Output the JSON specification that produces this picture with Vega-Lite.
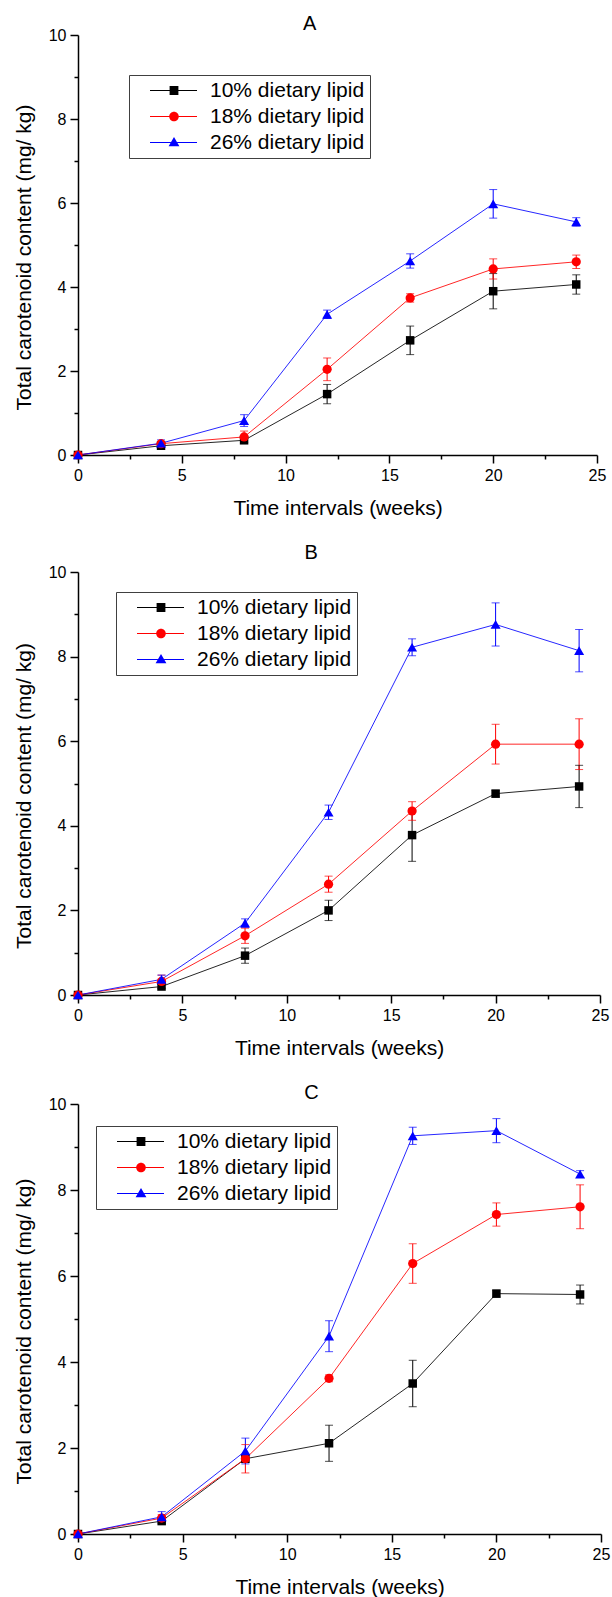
{
  "$schema": "https://vega.github.io/schema/vega-lite/v6.json",
  "padding": {"left": 13, "top": 14, "right": 4, "bottom": 0},
  "background": "white",
  "spacing": 25,
  "datasets": {
    "d": [
      {"p":"A","g":"10% dietary lipid","w":0,"v":0,"lo":0,"hi":0},
      {"p":"A","g":"10% dietary lipid","w":4,"v":0.22,"lo":0.17,"hi":0.27},
      {"p":"A","g":"10% dietary lipid","w":8,"v":0.35,"lo":0.30,"hi":0.40},
      {"p":"A","g":"10% dietary lipid","w":12,"v":1.45,"lo":1.22,"hi":1.68},
      {"p":"A","g":"10% dietary lipid","w":16,"v":2.73,"lo":2.39,"hi":3.07},
      {"p":"A","g":"10% dietary lipid","w":20,"v":3.90,"lo":3.48,"hi":4.32},
      {"p":"A","g":"10% dietary lipid","w":24,"v":4.06,"lo":3.83,"hi":4.29},
      {"p":"A","g":"18% dietary lipid","w":0,"v":0,"lo":0,"hi":0},
      {"p":"A","g":"18% dietary lipid","w":4,"v":0.27,"lo":0.22,"hi":0.32},
      {"p":"A","g":"18% dietary lipid","w":8,"v":0.43,"lo":0.29,"hi":0.57},
      {"p":"A","g":"18% dietary lipid","w":12,"v":2.04,"lo":1.77,"hi":2.31},
      {"p":"A","g":"18% dietary lipid","w":16,"v":3.74,"lo":3.64,"hi":3.84},
      {"p":"A","g":"18% dietary lipid","w":20,"v":4.43,"lo":4.19,"hi":4.67},
      {"p":"A","g":"18% dietary lipid","w":24,"v":4.60,"lo":4.44,"hi":4.76},
      {"p":"A","g":"26% dietary lipid","w":0,"v":0,"lo":0,"hi":0},
      {"p":"A","g":"26% dietary lipid","w":4,"v":0.28,"lo":0.20,"hi":0.36},
      {"p":"A","g":"26% dietary lipid","w":8,"v":0.82,"lo":0.68,"hi":0.96},
      {"p":"A","g":"26% dietary lipid","w":12,"v":3.35,"lo":3.25,"hi":3.45},
      {"p":"A","g":"26% dietary lipid","w":16,"v":4.62,"lo":4.45,"hi":4.79},
      {"p":"A","g":"26% dietary lipid","w":20,"v":5.98,"lo":5.64,"hi":6.32},
      {"p":"A","g":"26% dietary lipid","w":24,"v":5.55,"lo":5.45,"hi":5.65},
      {"p":"B","g":"10% dietary lipid","w":0,"v":0,"lo":0,"hi":0},
      {"p":"B","g":"10% dietary lipid","w":4,"v":0.20,"lo":0.15,"hi":0.25},
      {"p":"B","g":"10% dietary lipid","w":8,"v":0.93,"lo":0.75,"hi":1.11},
      {"p":"B","g":"10% dietary lipid","w":12,"v":2.00,"lo":1.76,"hi":2.24},
      {"p":"B","g":"10% dietary lipid","w":16,"v":3.78,"lo":3.16,"hi":4.40},
      {"p":"B","g":"10% dietary lipid","w":20,"v":4.76,"lo":4.68,"hi":4.84},
      {"p":"B","g":"10% dietary lipid","w":24,"v":4.93,"lo":4.43,"hi":5.43},
      {"p":"B","g":"18% dietary lipid","w":0,"v":0,"lo":0,"hi":0},
      {"p":"B","g":"18% dietary lipid","w":4,"v":0.32,"lo":0.17,"hi":0.47},
      {"p":"B","g":"18% dietary lipid","w":8,"v":1.40,"lo":1.22,"hi":1.58},
      {"p":"B","g":"18% dietary lipid","w":12,"v":2.62,"lo":2.43,"hi":2.81},
      {"p":"B","g":"18% dietary lipid","w":16,"v":4.35,"lo":4.13,"hi":4.57},
      {"p":"B","g":"18% dietary lipid","w":20,"v":5.93,"lo":5.46,"hi":6.40},
      {"p":"B","g":"18% dietary lipid","w":24,"v":5.93,"lo":5.33,"hi":6.53},
      {"p":"B","g":"26% dietary lipid","w":0,"v":0,"lo":0,"hi":0},
      {"p":"B","g":"26% dietary lipid","w":4,"v":0.37,"lo":0.27,"hi":0.47},
      {"p":"B","g":"26% dietary lipid","w":8,"v":1.70,"lo":1.60,"hi":1.80},
      {"p":"B","g":"26% dietary lipid","w":12,"v":4.32,"lo":4.15,"hi":4.49},
      {"p":"B","g":"26% dietary lipid","w":16,"v":8.22,"lo":8.02,"hi":8.42},
      {"p":"B","g":"26% dietary lipid","w":20,"v":8.76,"lo":8.25,"hi":9.27},
      {"p":"B","g":"26% dietary lipid","w":24,"v":8.14,"lo":7.64,"hi":8.64},
      {"p":"C","g":"10% dietary lipid","w":0,"v":0,"lo":0,"hi":0},
      {"p":"C","g":"10% dietary lipid","w":4,"v":0.30,"lo":0.25,"hi":0.35},
      {"p":"C","g":"10% dietary lipid","w":8,"v":1.75,"lo":1.67,"hi":1.83},
      {"p":"C","g":"10% dietary lipid","w":12,"v":2.11,"lo":1.69,"hi":2.53},
      {"p":"C","g":"10% dietary lipid","w":16,"v":3.50,"lo":2.96,"hi":4.04},
      {"p":"C","g":"10% dietary lipid","w":20,"v":5.59,"lo":5.51,"hi":5.67},
      {"p":"C","g":"10% dietary lipid","w":24,"v":5.57,"lo":5.35,"hi":5.79},
      {"p":"C","g":"18% dietary lipid","w":0,"v":0,"lo":0,"hi":0},
      {"p":"C","g":"18% dietary lipid","w":4,"v":0.37,"lo":0.29,"hi":0.45},
      {"p":"C","g":"18% dietary lipid","w":8,"v":1.75,"lo":1.42,"hi":2.08},
      {"p":"C","g":"18% dietary lipid","w":12,"v":3.62,"lo":3.54,"hi":3.70},
      {"p":"C","g":"18% dietary lipid","w":16,"v":6.29,"lo":5.83,"hi":6.75},
      {"p":"C","g":"18% dietary lipid","w":20,"v":7.43,"lo":7.16,"hi":7.70},
      {"p":"C","g":"18% dietary lipid","w":24,"v":7.61,"lo":7.10,"hi":8.12},
      {"p":"C","g":"26% dietary lipid","w":0,"v":0,"lo":0,"hi":0},
      {"p":"C","g":"26% dietary lipid","w":4,"v":0.40,"lo":0.28,"hi":0.52},
      {"p":"C","g":"26% dietary lipid","w":8,"v":1.93,"lo":1.63,"hi":2.23},
      {"p":"C","g":"26% dietary lipid","w":12,"v":4.60,"lo":4.24,"hi":4.96},
      {"p":"C","g":"26% dietary lipid","w":16,"v":9.26,"lo":9.06,"hi":9.46},
      {"p":"C","g":"26% dietary lipid","w":20,"v":9.38,"lo":9.10,"hi":9.66},
      {"p":"C","g":"26% dietary lipid","w":24,"v":8.37,"lo":8.29,"hi":8.45}
    ]
  },
  "resolve": {"scale": {"color": "independent", "shape": "independent"}, "legend": {"color": "independent", "shape": "independent"}},
  "vconcat": [
    {
      "title": {"text": "A", "offset": -7},
      "width": 519, "height": 420,
      "data": {"name": "d"},
      "transform": [{"filter": "datum.p === 'A'"}],
      "encoding": {
        "x": {"field": "w", "type": "quantitative", "title": "Time intervals (weeks)", "scale": {"domain": [0, 25], "nice": false, "zero": false},
          "axis": {"values": [0,2.5,5,7.5,10,12.5,15,17.5,20,22.5,25], "labelExpr": "datum.value % 5 === 0 ? '' + datum.value : ''", "tickSize": {"condition": {"test": "datum.value % 5 === 0", "value": 8}, "value": 4}}},
        "color": {"field": "g", "type": "nominal", "scale": {"domain": ["10% dietary lipid","18% dietary lipid","26% dietary lipid"], "range": ["#000000","#ff0000","#0000ff"]},
          "legend": {"legendX": 51, "legendY": 40}}
      },
      "layer": [
        {"mark": {"type": "rule", "strokeWidth": 1}, "encoding": {"y": {"field": "lo", "type": "quantitative", "title": "Total carotenoid content (mg/ kg)", "scale": {"domain": [0, 10], "nice": false}}, "y2": {"field": "hi"}}},
        {"mark": {"type": "tick", "orient": "horizontal", "size": 8, "thickness": 1}, "encoding": {"y": {"field": "lo", "type": "quantitative", "title": "Total carotenoid content (mg/ kg)"}}},
        {"mark": {"type": "tick", "orient": "horizontal", "size": 8, "thickness": 1}, "encoding": {"y": {"field": "hi", "type": "quantitative", "title": "Total carotenoid content (mg/ kg)"}}},
        {"mark": {"type": "line", "strokeWidth": 1, "opacity": 0.85}, "encoding": {"y": {"field": "v", "type": "quantitative", "title": "Total carotenoid content (mg/ kg)",
          "axis": {"values": [0,1,2,3,4,5,6,7,8,9,10], "titleY": 222, "labelExpr": "datum.value % 2 === 0 ? '' + datum.value : ''", "tickSize": {"condition": {"test": "datum.value % 2 === 0", "value": 8}, "value": 4}}}}},
        {"transform": [{"filter": "datum.g === '10% dietary lipid'"}], "mark": {"type": "point", "shape": "square", "filled": true, "opacity": 1, "size": 72}, "encoding": {"y": {"field": "v", "type": "quantitative", "title": "Total carotenoid content (mg/ kg)"}}},
        {"transform": [{"filter": "datum.g === '18% dietary lipid'"}], "mark": {"type": "point", "shape": "circle", "filled": true, "opacity": 1, "size": 85}, "encoding": {"y": {"field": "v", "type": "quantitative", "title": "Total carotenoid content (mg/ kg)"}}},
        {"transform": [{"filter": "datum.g === '26% dietary lipid'"}], "mark": {"type": "point", "shape": "triangle-up", "filled": true, "opacity": 1, "size": 100}, "encoding": {"y": {"field": "v", "type": "quantitative", "title": "Total carotenoid content (mg/ kg)"}}},
        {"transform": [{"filter": "datum.w < 0"}], "mark": {"type": "point", "filled": true, "opacity": 1, "size": 64}, "encoding": {"y": {"field": "v", "type": "quantitative", "title": "Total carotenoid content (mg/ kg)"},
          "shape": {"field": "g", "type": "nominal", "scale": {"domain": ["10% dietary lipid","18% dietary lipid","26% dietary lipid"], "range": ["M1.375,-0.125H6.275V0.125H1.375ZM8.475,-0.125H13.125V0.125H8.475ZM6.275,-1.1H8.475V1.1H6.275Z", "M1.375,-0.125H6.175V0.125H1.375ZM8.575,-0.125H13.125V0.125H8.575ZM8.575,0A1.2,1.2,0,1,1,6.175,0A1.2,1.2,0,1,1,8.575,0Z", "M1.375,-0.125H6.575V0.125H1.375ZM8.175,-0.125H13.125V0.125H8.175ZM7.375,-1.4L8.725,0.95H6.025Z"]}, "legend": {"legendX": 51, "legendY": 40}}}}
      ]
    },
    {
      "title": {"text": "B", "offset": 1},
      "width": 522, "height": 423,
      "data": {"name": "d"},
      "transform": [{"filter": "datum.p === 'B'"}],
      "encoding": {
        "x": {"field": "w", "type": "quantitative", "title": "Time intervals (weeks)", "scale": {"domain": [0, 25], "nice": false, "zero": false},
          "axis": {"values": [0,2.5,5,7.5,10,12.5,15,17.5,20,22.5,25], "labelExpr": "datum.value % 5 === 0 ? '' + datum.value : ''", "tickSize": {"condition": {"test": "datum.value % 5 === 0", "value": 8}, "value": 4}}},
        "color": {"field": "g", "type": "nominal", "scale": {"domain": ["10% dietary lipid","18% dietary lipid","26% dietary lipid"], "range": ["#000000","#ff0000","#0000ff"]},
          "legend": {"legendX": 38, "legendY": 20}}
      },
      "layer": [
        {"mark": {"type": "rule", "strokeWidth": 1}, "encoding": {"y": {"field": "lo", "type": "quantitative", "title": "Total carotenoid content (mg/ kg)", "scale": {"domain": [0, 10], "nice": false}}, "y2": {"field": "hi"}}},
        {"mark": {"type": "tick", "orient": "horizontal", "size": 8, "thickness": 1}, "encoding": {"y": {"field": "lo", "type": "quantitative", "title": "Total carotenoid content (mg/ kg)"}}},
        {"mark": {"type": "tick", "orient": "horizontal", "size": 8, "thickness": 1}, "encoding": {"y": {"field": "hi", "type": "quantitative", "title": "Total carotenoid content (mg/ kg)"}}},
        {"mark": {"type": "line", "strokeWidth": 1, "opacity": 0.85}, "encoding": {"y": {"field": "v", "type": "quantitative", "title": "Total carotenoid content (mg/ kg)",
          "axis": {"values": [0,1,2,3,4,5,6,7,8,9,10], "titleY": 223.5, "labelExpr": "datum.value % 2 === 0 ? '' + datum.value : ''", "tickSize": {"condition": {"test": "datum.value % 2 === 0", "value": 8}, "value": 4}}}}},
        {"transform": [{"filter": "datum.g === '10% dietary lipid'"}], "mark": {"type": "point", "shape": "square", "filled": true, "opacity": 1, "size": 72}, "encoding": {"y": {"field": "v", "type": "quantitative", "title": "Total carotenoid content (mg/ kg)"}}},
        {"transform": [{"filter": "datum.g === '18% dietary lipid'"}], "mark": {"type": "point", "shape": "circle", "filled": true, "opacity": 1, "size": 85}, "encoding": {"y": {"field": "v", "type": "quantitative", "title": "Total carotenoid content (mg/ kg)"}}},
        {"transform": [{"filter": "datum.g === '26% dietary lipid'"}], "mark": {"type": "point", "shape": "triangle-up", "filled": true, "opacity": 1, "size": 100}, "encoding": {"y": {"field": "v", "type": "quantitative", "title": "Total carotenoid content (mg/ kg)"}}},
        {"transform": [{"filter": "datum.w < 0"}], "mark": {"type": "point", "filled": true, "opacity": 1, "size": 64}, "encoding": {"y": {"field": "v", "type": "quantitative", "title": "Total carotenoid content (mg/ kg)"},
          "shape": {"field": "g", "type": "nominal", "scale": {"domain": ["10% dietary lipid","18% dietary lipid","26% dietary lipid"], "range": ["M1.375,-0.125H6.275V0.125H1.375ZM8.475,-0.125H13.125V0.125H8.475ZM6.275,-1.1H8.475V1.1H6.275Z", "M1.375,-0.125H6.175V0.125H1.375ZM8.575,-0.125H13.125V0.125H8.575ZM8.575,0A1.2,1.2,0,1,1,6.175,0A1.2,1.2,0,1,1,8.575,0Z", "M1.375,-0.125H6.575V0.125H1.375ZM8.175,-0.125H13.125V0.125H8.175ZM7.375,-1.4L8.725,0.95H6.025Z"]}, "legend": {"legendX": 38, "legendY": 20}}}}
      ]
    },
    {
      "title": {"text": "C", "offset": -7},
      "width": 523, "height": 430,
      "data": {"name": "d"},
      "transform": [{"filter": "datum.p === 'C'"}],
      "encoding": {
        "x": {"field": "w", "type": "quantitative", "title": "Time intervals (weeks)", "scale": {"domain": [0, 25], "nice": false, "zero": false},
          "axis": {"values": [0,2.5,5,7.5,10,12.5,15,17.5,20,22.5,25], "labelExpr": "datum.value % 5 === 0 ? '' + datum.value : ''", "tickSize": {"condition": {"test": "datum.value % 5 === 0", "value": 8}, "value": 4}}},
        "color": {"field": "g", "type": "nominal", "scale": {"domain": ["10% dietary lipid","18% dietary lipid","26% dietary lipid"], "range": ["#000000","#ff0000","#0000ff"]},
          "legend": {"legendX": 18, "legendY": 22}}
      },
      "layer": [
        {"mark": {"type": "rule", "strokeWidth": 1}, "encoding": {"y": {"field": "lo", "type": "quantitative", "title": "Total carotenoid content (mg/ kg)", "scale": {"domain": [0, 10], "nice": false}}, "y2": {"field": "hi"}}},
        {"mark": {"type": "tick", "orient": "horizontal", "size": 8, "thickness": 1}, "encoding": {"y": {"field": "lo", "type": "quantitative", "title": "Total carotenoid content (mg/ kg)"}}},
        {"mark": {"type": "tick", "orient": "horizontal", "size": 8, "thickness": 1}, "encoding": {"y": {"field": "hi", "type": "quantitative", "title": "Total carotenoid content (mg/ kg)"}}},
        {"mark": {"type": "line", "strokeWidth": 1, "opacity": 0.85}, "encoding": {"y": {"field": "v", "type": "quantitative", "title": "Total carotenoid content (mg/ kg)",
          "axis": {"values": [0,1,2,3,4,5,6,7,8,9,10], "titleY": 227, "labelExpr": "datum.value % 2 === 0 ? '' + datum.value : ''", "tickSize": {"condition": {"test": "datum.value % 2 === 0", "value": 8}, "value": 4}}}}},
        {"transform": [{"filter": "datum.g === '10% dietary lipid'"}], "mark": {"type": "point", "shape": "square", "filled": true, "opacity": 1, "size": 72}, "encoding": {"y": {"field": "v", "type": "quantitative", "title": "Total carotenoid content (mg/ kg)"}}},
        {"transform": [{"filter": "datum.g === '18% dietary lipid'"}], "mark": {"type": "point", "shape": "circle", "filled": true, "opacity": 1, "size": 85}, "encoding": {"y": {"field": "v", "type": "quantitative", "title": "Total carotenoid content (mg/ kg)"}}},
        {"transform": [{"filter": "datum.g === '26% dietary lipid'"}], "mark": {"type": "point", "shape": "triangle-up", "filled": true, "opacity": 1, "size": 100}, "encoding": {"y": {"field": "v", "type": "quantitative", "title": "Total carotenoid content (mg/ kg)"}}},
        {"transform": [{"filter": "datum.w < 0"}], "mark": {"type": "point", "filled": true, "opacity": 1, "size": 64}, "encoding": {"y": {"field": "v", "type": "quantitative", "title": "Total carotenoid content (mg/ kg)"},
          "shape": {"field": "g", "type": "nominal", "scale": {"domain": ["10% dietary lipid","18% dietary lipid","26% dietary lipid"], "range": ["M1.375,-0.125H6.275V0.125H1.375ZM8.475,-0.125H13.125V0.125H8.475ZM6.275,-1.1H8.475V1.1H6.275Z", "M1.375,-0.125H6.175V0.125H1.375ZM8.575,-0.125H13.125V0.125H8.575ZM8.575,0A1.2,1.2,0,1,1,6.175,0A1.2,1.2,0,1,1,8.575,0Z", "M1.375,-0.125H6.575V0.125H1.375ZM8.175,-0.125H13.125V0.125H8.175ZM7.375,-1.4L8.725,0.95H6.025Z"]}, "legend": {"legendX": 18, "legendY": 22}}}}
      ]
    }
  ],
  "config": {
    "font": "Liberation Sans",
    "view": {"stroke": null},
    "title": {"fontSize": 20, "fontWeight": "normal", "font": "Liberation Sans", "color": "#000", "anchor": "middle", "frame": "bounds"},
    "axis": {"grid": false, "labelFont": "Liberation Sans", "labelFontSize": 16, "labelColor": "#000", "titleFont": "Liberation Sans", "titleFontSize": 21, "titleFontWeight": "normal", "titleColor": "#000", "domainColor": "#000", "domainWidth": 1.5, "tickColor": "#000", "tickWidth": 1.5, "labelPadding": 4, "labelOverlap": false, "labelFlush": false},
    "axisX": {"titlePadding": 14},
    "axisY": {"titlePadding": 14},
    "legend": {
      "orient": "none", "title": null, "strokeColor": "#404040", "fillColor": "white", "padding": 5,
      "labelFont": "Liberation Sans", "labelFontSize": 21, "labelColor": "#000", "labelOffset": 55, "rowPadding": 4, "symbolSize": 64, "symbolStrokeWidth": 0, "symbolOpacity": 1
    }
  }
}
